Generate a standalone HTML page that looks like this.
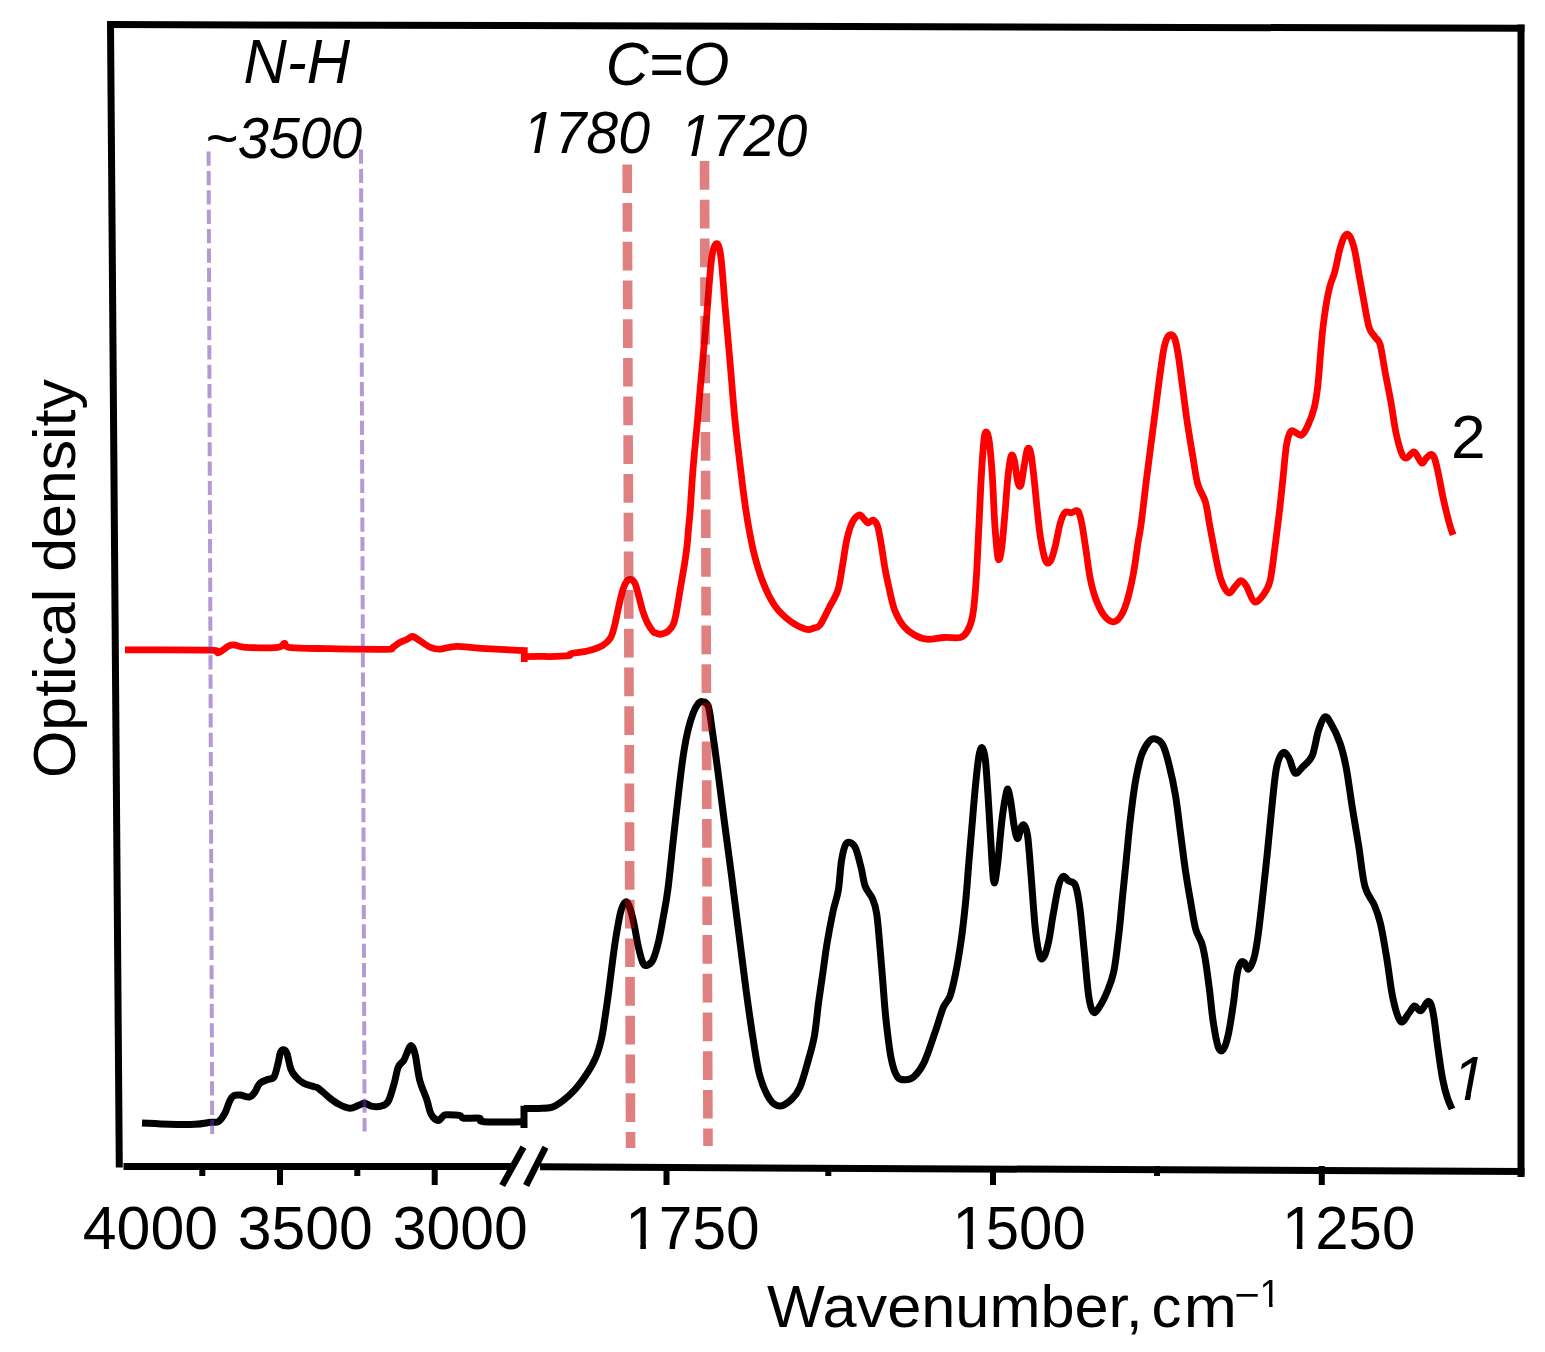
<!DOCTYPE html>
<html><head><meta charset="utf-8"><title>Optical density spectrum</title>
<style>html,body{margin:0;padding:0;background:#fff;width:1545px;height:1352px;overflow:hidden}svg{display:block}</style>
</head><body>
<svg width="1545" height="1352" viewBox="0 0 1545 1352">
<rect width="1545" height="1352" fill="#fff"/>
<g font-family="Liberation Sans, Arial, sans-serif" fill="#000">
<text transform="translate(243.40 83.10) scale(1.0000 1.0366)" font-size="60" font-style="italic">N-H</text>
<text transform="translate(205.07 157.90) scale(0.9329 0.9683)" font-size="60" font-style="italic">~3500</text>
<text transform="translate(605.63 85.20) scale(0.9892 1.0171)" font-size="60" font-style="italic">C=O</text>
<g transform="translate(522.59 153.48) scale(0.9550 0.9850)"><text font-size="60" font-style="italic">1780</text><path d="M-1.76 1.17 L-1.76 -6.24 L13.15 -6.24 L11.78 1.17 Z M18.69 -6.24 L29.59 -6.24 L28.12 1.17 L17.23 1.17 Z" fill="#fff"/></g>
<g transform="translate(679.88 155.81) scale(0.9550 0.9930)"><text font-size="60" font-style="italic">1720</text><path d="M-1.76 1.17 L-1.76 -6.24 L13.15 -6.24 L11.78 1.17 Z M18.69 -6.24 L29.59 -6.24 L28.12 1.17 L17.23 1.17 Z" fill="#fff"/></g>
<text transform="translate(1451.09 458.10) scale(1.0370 1.0293)" font-size="60">2</text>
<g transform="translate(1452.60 1100.00) scale(1 1.0450)"><text font-size="60" font-style="italic">1</text><path d="M-1.76 1.17 L-1.76 -6.24 L13.15 -6.24 L11.78 1.17 Z M18.69 -6.24 L29.59 -6.24 L28.12 1.17 L17.23 1.17 Z" fill="#fff"/></g>
<text transform="translate(82.79 1249.20) scale(1.0131 1.0317)" font-size="60">4000</text>
<text transform="translate(237.87 1249.20) scale(1.0109 1.0317)" font-size="60">3500</text>
<text transform="translate(392.87 1249.20) scale(1.0109 1.0317)" font-size="60">3000</text>
<g transform="translate(625.26 1249.20) scale(1.0071 1.0317)"><text font-size="60">1750</text><path d="M1.76 1.17 L1.76 -6.24 L14.97 -6.24 L14.97 1.17 Z M20.51 1.17 L20.51 -6.24 L31.49 -6.24 L31.49 1.17 Z" fill="#fff"/></g>
<g transform="translate(952.40 1249.20) scale(0.9992 1.0317)"><text font-size="60">1500</text><path d="M1.76 1.17 L1.76 -6.24 L14.97 -6.24 L14.97 1.17 Z M20.51 1.17 L20.51 -6.24 L31.49 -6.24 L31.49 1.17 Z" fill="#fff"/></g>
<g transform="translate(1281.90 1249.20) scale(0.9992 1.0317)"><text font-size="60">1250</text><path d="M1.76 1.17 L1.76 -6.24 L14.97 -6.24 L14.97 1.17 Z M20.51 1.17 L20.51 -6.24 L31.49 -6.24 L31.49 1.17 Z" fill="#fff"/></g>
<text transform="translate(766.90 1326.70) scale(1.0215 0.9860)" font-size="60">Wavenumber,</text>
<text transform="translate(1151.50 1326.70) scale(1.0000 1.0000)" font-size="60">c</text>
<text transform="translate(1183.84 1326.70) scale(1.0640 1.0000)" font-size="60">m</text>
<text transform="translate(1234.19 1307.50) scale(1.1550 1)" font-size="38">−</text>
<g transform="translate(1259.60 1307.10) scale(1 1.0333)"><text font-size="38">1</text><path d="M1.11 0.74 L1.11 -3.95 L9.48 -3.95 L9.48 0.74 Z M12.99 0.74 L12.99 -3.95 L19.95 -3.95 L19.95 0.74 Z" fill="#fff"/></g>
<text transform="translate(75.21 777.94) rotate(-90) scale(1.0136 0.9909)" font-size="60">Optical density</text>
</g>
<path d="M142.0 1122.9 C146.5 1123.1 160.3 1124.0 169.2 1124.2 C178.0 1124.4 188.2 1124.5 195.1 1124.2 C202.0 1123.9 206.7 1122.7 210.6 1122.3 C214.5 1121.9 216.0 1123.1 218.4 1121.6 C220.8 1120.1 223.0 1116.8 224.9 1113.2 C226.8 1109.7 228.5 1103.2 230.0 1100.3 C231.5 1097.4 232.2 1096.6 233.9 1095.7 C235.6 1094.8 237.8 1094.9 240.4 1095.1 C243.0 1095.3 247.0 1097.4 249.4 1097.0 C251.8 1096.6 252.9 1094.8 254.6 1092.5 C256.3 1090.2 257.6 1085.6 259.8 1083.4 C262.0 1081.2 265.2 1080.6 267.6 1079.5 C270.0 1078.4 272.3 1079.6 274.0 1077.0 C275.7 1074.4 276.8 1068.1 277.9 1064.0 C279.0 1059.9 279.5 1054.8 280.5 1052.4 C281.5 1050.0 282.7 1049.6 283.8 1049.8 C284.9 1050.0 285.8 1050.5 287.0 1053.7 C288.2 1056.9 289.4 1065.3 290.9 1069.2 C292.4 1073.1 293.9 1074.6 296.0 1077.0 C298.1 1079.4 300.8 1081.8 303.8 1083.4 C306.8 1085.0 311.8 1085.9 314.2 1086.7 C316.6 1087.5 316.1 1086.6 318.5 1088.3 C320.9 1090.0 325.2 1094.3 328.5 1096.9 C331.8 1099.5 334.9 1102.1 338.5 1104.0 C342.1 1105.9 346.6 1108.1 349.9 1108.3 C353.2 1108.5 355.9 1106.2 358.4 1105.4 C360.9 1104.6 362.7 1103.2 364.8 1103.3 C366.9 1103.4 368.5 1105.6 371.2 1106.1 C373.9 1106.6 378.3 1106.9 381.2 1106.1 C384.1 1105.3 386.2 1104.9 388.3 1101.2 C390.4 1097.5 392.3 1089.8 394.0 1084.1 C395.7 1078.4 396.6 1071.0 398.3 1067.0 C400.0 1063.0 402.1 1063.2 404.0 1059.9 C405.9 1056.6 408.3 1049.2 409.7 1047.0 C411.1 1044.8 411.6 1045.6 412.5 1047.0 C413.4 1048.4 414.2 1050.1 415.4 1055.6 C416.6 1061.1 417.7 1072.4 419.6 1079.8 C421.5 1087.2 424.9 1094.0 426.8 1099.7 C428.7 1105.4 429.1 1110.5 431.0 1114.0 C432.9 1117.5 436.1 1120.2 438.2 1120.4 C440.3 1120.6 442.1 1116.4 443.8 1115.4 C445.5 1114.5 445.5 1114.7 448.1 1114.7 C450.7 1114.7 456.9 1114.8 459.5 1115.4 C462.1 1116.0 460.5 1117.7 463.8 1118.2 C467.1 1118.7 476.1 1117.6 479.4 1118.2 C482.7 1118.8 476.6 1121.2 483.7 1121.8 C490.8 1122.4 515.8 1121.8 522.2 1121.8" fill="none" stroke="#000" stroke-width="7.0" stroke-linejoin="round" stroke-linecap="butt"/>
<path d="M524.0 1108.4 C526.4 1108.4 533.9 1108.6 538.5 1108.4 C543.1 1108.2 547.4 1108.6 551.4 1107.4 C555.4 1106.2 558.5 1104.1 562.5 1101.0 C566.5 1097.9 571.5 1093.5 575.5 1089.0 C579.5 1084.5 583.2 1079.5 586.6 1074.2 C590.0 1069.0 593.3 1063.4 595.8 1057.5 C598.3 1051.6 599.8 1045.8 601.4 1039.0 C603.0 1032.2 603.9 1024.8 605.1 1016.8 C606.3 1008.8 607.6 1000.1 608.8 990.9 C610.0 981.7 611.3 970.6 612.5 961.4 C613.7 952.2 614.8 943.8 616.2 935.5 C617.6 927.2 619.3 916.9 620.8 911.4 C622.3 905.9 624.0 903.1 625.4 902.2 C626.8 901.3 627.7 902.5 629.1 905.9 C630.5 909.3 632.2 915.7 633.7 922.5 C635.2 929.3 636.8 939.8 638.3 946.6 C639.8 953.4 641.5 960.1 643.0 963.2 C644.5 966.3 645.9 965.7 647.6 965.1 C649.3 964.5 651.2 963.5 653.1 959.5 C655.0 955.5 657.0 948.1 658.7 941.0 C660.4 933.9 661.8 925.6 663.3 917.0 C664.8 908.4 666.2 902.1 667.9 889.2 C669.6 876.3 671.3 857.9 673.3 839.8 C675.3 821.7 678.2 795.1 680.0 780.5 C681.8 765.9 682.4 760.6 683.8 752.0 C685.2 743.4 686.7 735.5 688.3 729.0 C689.9 722.5 691.6 717.2 693.2 713.0 C694.8 708.8 696.5 705.9 698.0 704.0 C699.5 702.1 700.3 701.3 702.0 701.6 C703.7 701.9 706.5 701.3 708.2 706.0 C709.9 710.7 710.6 719.4 712.2 730.0 C713.8 740.6 715.7 754.9 717.7 769.9 C719.7 784.9 721.9 802.6 724.1 819.8 C726.4 837.0 728.8 854.2 731.2 873.1 C733.7 892.0 736.3 913.6 738.8 933.0 C741.3 952.4 743.6 971.9 746.0 989.6 C748.4 1007.4 750.9 1025.1 753.2 1039.5 C755.5 1053.9 757.1 1066.1 759.9 1076.1 C762.7 1086.1 766.6 1094.4 769.9 1099.4 C773.2 1104.4 776.2 1106.1 779.8 1106.1 C783.4 1106.1 788.1 1102.6 791.5 1099.4 C794.9 1096.2 797.2 1093.6 800.0 1087.1 C802.8 1080.6 805.9 1068.8 808.3 1060.2 C810.7 1051.6 812.8 1045.0 814.5 1035.3 C816.2 1025.6 817.2 1012.6 818.6 1002.2 C820.0 991.9 821.4 982.9 822.8 973.2 C824.2 963.5 825.2 954.6 826.9 944.2 C828.6 933.9 831.2 920.1 833.1 911.1 C835.0 902.1 836.9 898.7 838.3 890.4 C839.7 882.1 840.2 869.0 841.4 861.4 C842.6 853.8 844.0 847.9 845.5 844.8 C847.0 841.7 849.0 842.1 850.7 842.8 C852.4 843.5 854.2 844.9 855.9 849.0 C857.6 853.1 859.5 861.4 861.1 867.6 C862.7 873.8 863.3 881.1 865.2 886.3 C867.1 891.5 870.6 894.2 872.5 898.7 C874.4 903.2 875.4 905.6 876.6 913.2 C877.8 920.8 878.7 932.8 879.7 944.2 C880.7 955.6 881.8 969.1 882.8 981.5 C883.8 993.9 884.5 1006.0 885.9 1018.8 C887.3 1031.6 889.2 1048.4 891.1 1058.1 C893.0 1067.8 894.9 1073.1 897.3 1076.7 C899.7 1080.3 902.8 1079.8 905.6 1079.8 C908.4 1079.8 910.8 1079.6 913.9 1076.7 C917.0 1073.8 920.4 1070.4 924.2 1062.2 C928.0 1054.0 933.5 1036.5 936.7 1027.3 C939.9 1018.1 941.1 1012.5 943.3 1007.3 C945.5 1002.1 948.0 1001.8 950.0 996.2 C952.0 990.7 953.6 983.2 955.5 974.0 C957.4 964.8 959.4 952.6 961.1 940.8 C962.8 929.0 964.2 916.0 965.5 903.1 C966.8 890.2 967.7 876.4 968.8 863.1 C969.9 849.8 971.1 836.1 972.2 823.2 C973.3 810.3 974.4 796.6 975.5 785.5 C976.6 774.4 977.7 762.9 978.8 756.6 C979.9 750.3 981.0 747.0 982.1 747.8 C983.2 748.5 984.4 751.1 985.5 761.1 C986.6 771.1 987.7 790.7 988.8 807.7 C989.9 824.7 991.2 850.5 992.1 863.1 C993.0 875.7 993.4 883.1 994.3 883.1 C995.2 883.1 996.4 873.8 997.7 863.1 C999.0 852.4 1000.6 830.6 1002.1 818.8 C1003.6 806.9 1005.4 796.6 1006.5 792.0 C1007.6 787.4 1007.8 789.1 1008.5 791.0 C1009.2 792.9 1010.0 797.1 1011.0 803.2 C1012.0 809.3 1013.3 821.7 1014.4 827.6 C1015.5 833.5 1016.6 838.7 1017.7 838.7 C1018.8 838.7 1019.9 829.8 1021.0 827.6 C1022.1 825.4 1023.2 823.9 1024.3 825.4 C1025.4 826.9 1026.6 828.4 1027.7 836.5 C1028.8 844.6 1029.7 858.7 1031.0 874.2 C1032.3 889.7 1033.9 916.0 1035.4 929.7 C1036.9 943.4 1038.4 951.9 1039.9 956.3 C1041.4 960.7 1042.8 958.9 1044.3 956.3 C1045.8 953.7 1047.3 947.8 1048.8 940.8 C1050.3 933.8 1051.5 923.5 1053.2 914.2 C1054.9 905.0 1057.0 891.6 1058.7 885.3 C1060.4 879.0 1061.5 877.1 1063.2 876.4 C1064.9 875.7 1066.7 879.4 1068.7 880.9 C1070.7 882.4 1073.6 880.9 1075.4 885.3 C1077.2 889.7 1078.3 896.4 1079.8 907.5 C1081.3 918.6 1082.8 937.1 1084.3 951.9 C1085.8 966.7 1087.2 986.2 1088.7 996.2 C1090.2 1006.2 1091.4 1009.8 1093.1 1011.8 C1094.8 1013.8 1096.4 1011.3 1098.7 1008.0 C1101.0 1004.7 1104.5 998.1 1107.0 992.0 C1109.5 985.9 1111.8 981.2 1113.8 971.5 C1115.8 961.8 1117.4 946.4 1118.9 933.8 C1120.4 921.2 1121.3 908.7 1122.6 896.1 C1123.8 883.5 1125.1 870.9 1126.4 858.3 C1127.7 845.7 1128.7 833.2 1130.2 820.6 C1131.7 808.0 1133.3 793.8 1135.2 782.9 C1137.1 772.0 1139.2 762.1 1141.5 755.2 C1143.8 748.3 1146.7 744.1 1149.0 741.4 C1151.3 738.7 1153.0 738.3 1155.3 738.9 C1157.6 739.5 1160.6 740.8 1162.9 745.2 C1165.2 749.6 1167.1 756.9 1169.2 765.3 C1171.3 773.7 1173.6 784.2 1175.5 795.5 C1177.4 806.8 1178.8 820.6 1180.5 833.2 C1182.2 845.8 1183.8 859.6 1185.5 870.9 C1187.2 882.2 1188.8 891.5 1190.5 901.1 C1192.2 910.8 1193.7 921.7 1195.6 928.8 C1197.5 935.9 1200.2 938.4 1201.9 943.8 C1203.6 949.2 1204.3 953.8 1205.6 961.4 C1206.8 969.0 1208.1 979.0 1209.4 989.1 C1210.7 999.2 1211.7 1012.1 1213.2 1021.8 C1214.7 1031.5 1216.5 1042.4 1218.2 1047.0 C1219.9 1051.6 1221.5 1051.6 1223.2 1049.5 C1224.9 1047.4 1226.6 1042.0 1228.3 1034.4 C1230.0 1026.9 1231.8 1014.3 1233.3 1004.2 C1234.8 994.1 1235.8 980.9 1237.1 974.0 C1238.3 967.1 1239.5 964.6 1240.8 962.7 C1242.0 960.8 1243.3 961.7 1244.6 962.7 C1245.9 963.8 1246.8 969.8 1248.4 969.0 C1250.0 968.2 1252.4 963.5 1254.0 958.0 C1255.6 952.5 1256.6 945.9 1258.0 936.0 C1259.4 926.1 1260.9 912.2 1262.4 898.8 C1263.9 885.3 1265.5 870.3 1267.1 855.3 C1268.6 840.3 1270.2 823.2 1271.7 808.7 C1273.2 794.2 1274.6 777.6 1276.4 768.3 C1278.2 759.0 1280.5 754.6 1282.6 752.8 C1284.7 751.0 1286.7 754.1 1288.8 757.5 C1290.9 760.9 1292.7 771.5 1295.0 773.0 C1297.3 774.5 1300.0 769.6 1302.8 766.8 C1305.6 763.9 1309.5 761.8 1312.1 755.9 C1314.7 750.0 1316.2 737.6 1318.3 731.1 C1320.4 724.6 1322.5 718.4 1324.6 717.1 C1326.7 715.8 1328.2 718.9 1330.8 723.3 C1333.4 727.7 1337.5 736.0 1340.1 743.5 C1342.7 751.0 1344.2 757.4 1346.3 768.3 C1348.4 779.2 1350.4 795.8 1352.5 808.7 C1354.6 821.7 1356.6 833.0 1358.7 846.0 C1360.8 859.0 1362.3 876.6 1364.9 886.4 C1367.5 896.2 1371.7 898.8 1374.3 905.0 C1376.9 911.2 1378.4 914.9 1380.5 923.7 C1382.6 932.5 1384.6 945.4 1386.7 957.8 C1388.8 970.2 1390.6 987.6 1392.9 998.2 C1395.2 1008.8 1398.1 1018.9 1400.7 1021.5 C1403.3 1024.1 1406.1 1016.4 1408.4 1013.8 C1410.7 1011.2 1412.5 1006.5 1414.6 1006.0 C1416.7 1005.5 1418.6 1011.5 1420.9 1010.7 C1423.2 1009.9 1426.5 1000.8 1428.6 1001.3 C1430.7 1001.8 1431.8 1006.0 1433.3 1013.8 C1434.8 1021.6 1436.4 1037.1 1437.9 1048.0 C1439.5 1058.9 1441.0 1070.7 1442.6 1079.0 C1444.2 1087.3 1445.7 1092.6 1447.3 1097.6 C1448.9 1102.6 1451.2 1107.1 1452.0 1109.0 M524 1127.9 L524 1105.8" fill="none" stroke="#000" stroke-width="7.0" stroke-linejoin="round" stroke-linecap="butt"/>
<path d="M125.0 649.9 C139.1 650.0 194.2 649.7 209.7 650.2 C225.2 650.7 215.1 653.4 218.2 652.7 C221.3 652.1 225.6 647.6 228.2 646.3 C230.8 645.0 231.1 644.7 233.9 644.9 C236.8 645.1 238.0 646.9 245.3 647.3 C252.7 647.7 271.5 647.9 278.0 647.3 C284.5 646.7 282.3 643.4 284.4 643.5 C286.5 643.6 283.2 646.8 290.8 647.7 C298.4 648.6 314.1 648.4 330.0 648.7 C345.9 649.0 375.7 649.4 386.0 649.3 C396.3 649.2 389.7 649.1 392.0 648.0 C394.3 646.9 397.2 643.9 399.7 642.5 C402.2 641.1 404.8 640.5 406.9 639.5 C409.0 638.5 410.5 636.3 412.6 636.5 C414.7 636.7 416.6 638.7 419.7 640.6 C422.8 642.5 427.8 646.3 431.1 647.7 C434.4 649.1 435.3 649.4 439.6 649.2 C443.9 649.0 449.8 646.4 456.7 646.3 C463.6 646.2 469.8 647.7 480.9 648.4 C492.0 649.1 516.5 650.2 523.6 650.6" fill="none" stroke="#ff0000" stroke-width="6.8" stroke-linejoin="round" stroke-linecap="butt"/>
<path d="M525.0 656.6 C527.5 656.5 535.9 656.3 540.0 656.3 C544.1 656.3 544.6 656.7 549.4 656.6 C554.2 656.5 565.2 656.1 568.8 655.6 C572.4 655.1 567.5 654.5 570.8 653.7 C574.0 652.9 583.0 652.2 588.3 650.8 C593.6 649.4 599.1 647.6 602.8 645.4 C606.5 643.2 608.6 640.9 610.6 637.7 C612.6 634.5 613.2 630.9 614.5 626.0 C615.8 621.1 617.0 614.2 618.3 608.5 C619.6 602.8 620.9 596.4 622.2 592.0 C623.5 587.6 624.7 584.4 626.1 582.3 C627.5 580.2 629.0 579.2 630.5 579.4 C632.0 579.6 633.5 580.5 634.9 583.3 C636.3 586.0 637.4 591.4 638.7 595.9 C640.0 600.4 641.1 606.0 642.6 610.5 C644.1 615.0 645.7 619.6 647.5 623.1 C649.3 626.6 651.9 630.1 653.3 631.8 C654.7 633.5 654.7 632.7 656.0 633.1 C657.3 633.5 659.1 634.5 661.1 634.2 C663.1 633.9 665.8 633.1 667.8 631.5 C669.8 629.9 671.8 627.7 673.3 624.3 C674.8 620.9 675.6 616.0 676.6 611.0 C677.6 606.0 678.5 599.8 679.4 594.3 C680.3 588.8 681.3 583.2 682.2 577.7 C683.1 572.2 684.2 566.5 685.0 561.0 C685.8 555.5 686.6 549.9 687.2 544.4 C687.8 538.9 688.1 533.3 688.6 527.7 C689.1 522.1 689.6 519.0 690.2 511.0 C690.8 503.1 691.5 489.8 692.2 480.0 C692.9 470.2 693.6 461.6 694.5 452.0 C695.4 442.4 696.1 436.3 697.3 422.6 C698.5 408.9 700.3 387.4 701.9 369.8 C703.5 352.2 705.0 335.1 706.6 317.0 C708.2 298.9 709.8 273.3 711.3 261.1 C712.8 248.9 714.3 245.0 715.9 244.0 C717.5 243.0 719.0 244.3 720.6 254.9 C722.2 265.5 723.7 290.1 725.2 307.7 C726.8 325.3 728.3 342.4 729.9 360.5 C731.5 378.6 732.9 398.8 734.6 416.4 C736.3 434.0 738.3 450.3 740.2 466.1 C742.1 481.9 743.8 497.0 746.0 511.0 C748.2 525.0 750.5 538.3 753.2 550.0 C756.0 561.7 758.9 571.7 762.5 581.0 C766.1 590.3 770.2 599.2 774.9 605.9 C779.6 612.6 785.3 617.5 790.5 621.4 C795.7 625.3 802.1 628.1 806.0 629.2 C809.9 630.3 811.7 628.7 814.0 628.0 C816.3 627.3 817.5 628.3 820.0 625.0 C822.5 621.7 825.9 614.0 828.9 608.2 C831.9 602.4 835.6 597.2 837.8 590.4 C840.0 583.6 840.7 575.6 842.2 567.3 C843.7 559.0 845.0 548.1 846.6 540.7 C848.2 533.3 849.9 527.3 852.0 523.0 C854.1 518.7 857.0 515.6 859.1 515.0 C861.2 514.4 862.9 518.1 864.4 519.4 C865.9 520.7 866.4 522.9 867.9 523.0 C869.4 523.1 871.7 519.7 873.3 520.3 C874.9 520.9 876.4 522.5 877.7 526.5 C879.0 530.5 880.0 537.5 881.2 544.3 C882.4 551.1 883.5 559.9 884.8 567.3 C886.1 574.7 887.6 581.5 889.2 588.6 C890.8 595.7 892.2 603.8 894.6 610.0 C897.0 616.2 900.1 621.8 903.4 625.9 C906.6 630.0 910.2 632.6 914.1 634.8 C918.0 637.0 921.5 638.8 926.5 639.2 C931.5 639.7 938.7 637.8 944.3 637.5 C949.9 637.2 956.4 638.5 960.2 637.5 C964.0 636.5 965.2 635.0 967.3 631.3 C969.4 627.6 971.2 623.9 972.7 615.3 C974.2 606.7 975.2 594.6 976.2 579.8 C977.2 565.0 978.0 544.2 978.9 526.5 C979.8 508.8 980.6 488.1 981.5 473.3 C982.4 458.5 983.3 444.6 984.2 437.8 C985.1 431.0 986.0 431.5 986.9 432.4 C987.8 433.3 988.6 435.7 989.5 443.1 C990.4 450.5 991.5 463.2 992.4 477.0 C993.3 490.8 993.9 512.2 994.9 525.8 C995.9 539.3 997.0 554.2 998.1 558.3 C999.2 562.4 1000.3 557.0 1001.4 550.2 C1002.5 543.4 1003.5 529.8 1004.6 517.6 C1005.7 505.4 1006.8 487.3 1007.9 477.0 C1009.0 466.7 1010.1 458.5 1011.2 455.8 C1012.3 453.1 1013.3 456.4 1014.4 460.7 C1015.5 465.0 1016.6 477.7 1017.7 481.8 C1018.8 485.9 1019.8 487.8 1020.9 485.1 C1022.0 482.4 1023.1 471.6 1024.2 465.6 C1025.3 459.6 1026.3 451.5 1027.4 449.3 C1028.5 447.1 1029.6 447.9 1030.7 452.5 C1031.8 457.1 1032.8 467.5 1033.9 477.0 C1035.0 486.5 1036.1 499.5 1037.2 509.5 C1038.3 519.5 1039.1 528.8 1040.4 537.2 C1041.8 545.6 1043.7 555.8 1045.3 559.9 C1046.9 564.0 1048.6 563.8 1050.2 561.6 C1051.8 559.4 1053.5 553.1 1055.1 546.9 C1056.7 540.6 1058.4 529.8 1060.0 524.1 C1061.6 518.4 1062.9 514.6 1064.8 512.7 C1066.7 510.8 1069.2 513.0 1071.4 512.7 C1073.6 512.4 1076.2 509.2 1077.9 511.1 C1079.7 513.0 1080.6 517.6 1081.9 524.1 C1083.2 530.6 1084.6 541.2 1086.0 550.2 C1087.4 559.2 1088.5 569.7 1090.1 577.8 C1091.7 585.9 1093.5 592.8 1095.8 599.0 C1098.1 605.2 1101.1 611.5 1103.9 615.3 C1106.7 619.1 1110.1 621.5 1112.8 621.8 C1115.5 622.1 1117.9 620.2 1120.2 616.9 C1122.5 613.6 1124.5 609.2 1126.7 602.2 C1128.9 595.2 1131.3 584.6 1133.2 574.6 C1135.1 564.6 1136.8 550.4 1138.1 542.0 C1139.4 533.6 1139.6 535.2 1141.1 524.1 C1142.6 513.0 1144.9 491.9 1147.0 475.3 C1149.1 458.7 1151.6 439.8 1153.6 424.3 C1155.6 408.8 1157.3 394.8 1159.0 382.1 C1160.7 369.4 1162.4 355.8 1164.0 348.0 C1165.6 340.2 1167.1 337.2 1168.8 335.5 C1170.5 333.8 1172.8 334.5 1174.4 337.8 C1176.0 341.1 1177.0 347.4 1178.3 355.5 C1179.6 363.6 1181.0 375.5 1182.5 386.6 C1184.0 397.7 1185.5 410.3 1187.2 422.1 C1189.0 433.9 1191.2 447.2 1193.0 457.6 C1194.8 468.0 1195.7 476.8 1197.8 484.2 C1199.9 491.6 1203.4 494.9 1205.4 501.9 C1207.4 508.9 1208.2 517.4 1209.9 526.3 C1211.6 535.2 1213.6 546.3 1215.4 555.2 C1217.2 564.1 1218.8 573.3 1221.0 579.6 C1223.2 585.9 1226.3 591.8 1228.7 592.9 C1231.1 594.0 1233.4 588.2 1235.4 586.2 C1237.4 584.2 1239.1 580.7 1240.9 580.7 C1242.8 580.7 1244.3 582.7 1246.5 586.2 C1248.7 589.7 1251.5 600.3 1254.3 601.8 C1257.1 603.3 1260.5 598.4 1263.1 595.1 C1265.7 591.8 1267.9 588.8 1269.8 581.8 C1271.7 574.8 1272.7 564.1 1274.2 553.0 C1275.7 541.9 1277.5 527.5 1279.0 515.0 C1280.5 502.5 1281.8 489.7 1283.0 478.0 C1284.2 466.3 1285.2 452.8 1286.5 445.0 C1287.8 437.2 1289.2 433.0 1291.0 431.1 C1292.8 429.2 1295.3 433.0 1297.1 433.6 C1298.9 434.2 1300.2 436.2 1302.0 434.8 C1303.8 433.4 1306.1 429.5 1308.1 425.0 C1310.1 420.5 1312.6 414.4 1314.2 407.9 C1315.8 401.4 1316.8 394.5 1317.8 386.0 C1318.8 377.5 1319.5 366.1 1320.3 356.7 C1321.1 347.3 1321.7 338.8 1322.7 329.8 C1323.7 320.9 1325.2 310.3 1326.4 303.0 C1327.6 295.7 1328.6 291.2 1330.0 285.9 C1331.4 280.6 1333.3 277.4 1334.9 271.3 C1336.5 265.2 1338.2 255.2 1339.8 249.3 C1341.4 243.4 1343.1 238.1 1344.7 235.9 C1346.3 233.7 1348.0 233.7 1349.6 235.9 C1351.2 238.1 1352.8 242.6 1354.4 249.3 C1356.0 256.0 1357.7 267.2 1359.3 276.1 C1360.9 285.1 1362.6 294.4 1364.2 303.0 C1365.8 311.6 1367.3 321.7 1369.1 327.4 C1370.9 333.1 1373.4 334.3 1375.2 337.2 C1377.0 340.1 1378.5 338.8 1380.1 344.5 C1381.7 350.2 1383.2 361.5 1385.0 371.3 C1386.8 381.1 1389.3 392.9 1391.1 403.1 C1392.9 413.3 1394.1 423.9 1395.9 432.4 C1397.7 440.9 1400.2 450.0 1402.0 454.3 C1403.8 458.6 1404.9 458.4 1406.9 458.0 C1408.9 457.6 1411.8 451.1 1414.2 451.9 C1416.7 452.7 1419.6 461.8 1421.6 462.9 C1423.6 464.0 1424.5 459.9 1426.0 458.5 C1427.5 457.1 1429.1 454.7 1430.5 454.5 C1431.9 454.3 1433.0 454.8 1434.2 457.5 C1435.4 460.2 1436.2 463.8 1437.8 471.0 C1439.4 478.2 1441.7 491.7 1443.7 500.6 C1445.7 509.5 1448.0 518.6 1449.6 524.3 C1451.2 530.0 1452.5 533.1 1453.1 534.9 M524.3 647.3 L524.3 662" fill="none" stroke="#ff0000" stroke-width="6.8" stroke-linejoin="round" stroke-linecap="butt"/>
<g stroke="rgba(109,49,169,0.5)" stroke-width="4.0" stroke-dasharray="14.2 5.17" fill="none">
<line x1="208.6" y1="151.6" x2="212.2" y2="1134"/>
<line x1="361" y1="149.5" x2="364.6" y2="1131.5"/>
</g>
<g stroke="rgba(192,0,0,0.5)" stroke-width="9.6" stroke-dasharray="28.7 10.0" fill="none">
<line x1="627.2" y1="164.4" x2="630.6" y2="1148"/>
<line x1="704.5" y1="161.1" x2="708" y2="1146"/>
</g>
<g stroke="#000" stroke-width="7" fill="none" stroke-linecap="square">
<line x1="110.5" y1="24.5" x2="1521" y2="28.3"/>
<line x1="1521" y1="28" x2="1521" y2="1173.5"/>
<line x1="110.5" y1="24.5" x2="119.3" y2="1167.5" stroke-linecap="butt"/>
</g>
<g stroke="#000" stroke-width="7" fill="none">
<line x1="123.5" y1="1166.5" x2="511" y2="1166.5"/>
<line x1="540" y1="1166.8" x2="1524.5" y2="1171.6"/>
<line x1="280.0" y1="1166" x2="280.0" y2="1185.0" stroke-width="6"/>
<line x1="434.7" y1="1166" x2="434.7" y2="1185.0" stroke-width="6"/>
<line x1="666.5" y1="1166" x2="666.5" y2="1185.0" stroke-width="6"/>
<line x1="993.0" y1="1166" x2="993.0" y2="1185.0" stroke-width="6"/>
<line x1="1321.8" y1="1166" x2="1321.8" y2="1185.0" stroke-width="6"/>
<line x1="202.3" y1="1166" x2="202.3" y2="1176" stroke-width="6"/>
<line x1="357.3" y1="1166" x2="357.3" y2="1176" stroke-width="6"/>
<line x1="828.3" y1="1166" x2="828.3" y2="1176" stroke-width="6"/>
<line x1="1157.0" y1="1166" x2="1157.0" y2="1176" stroke-width="6"/>
<line x1="502.2" y1="1185.5" x2="523.5" y2="1147.2" stroke-width="6.6"/>
<line x1="526.1" y1="1185.5" x2="545.5" y2="1147.2" stroke-width="6.6"/>
</g>
</svg>
</body></html>
